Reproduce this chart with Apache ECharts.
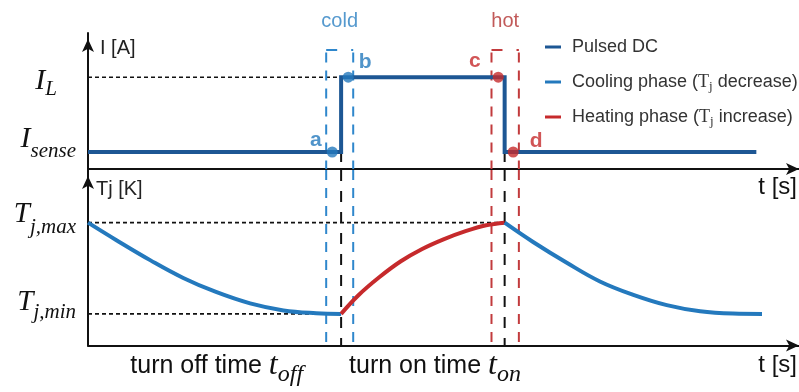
<!DOCTYPE html>
<html>
<head>
<meta charset="utf-8">
<script src="https://cdn.jsdelivr.net/npm/echarts@6/dist/echarts.min.js"></script>
<style>
  html, body { margin: 0; padding: 0; background: #ffffff; }
  #chart { width: 799px; height: 392px; }
</style>
</head>
<body>
<div id="chart"></div>
<script>
// ---- time base (arbitrary units) ----
const tAxisMax = 100;
const tSwitchOn = 35.6;    // load current switched on
const tSwitchOff = 58.6;   // load current switched off
const tCurrentEnd = 94.0;

// ---- current levels ----
const iSense = 1.0;
const iLoad = 5.4;
const iAxisMax = 8;

// ---- junction temperature levels ----
const tjMin = 1.8;
const tjMax = 7.0;
const tjAxisMax = 10;

// ---- pulsed DC current waveform ----
const currentT = [0, tSwitchOn, tSwitchOn, tSwitchOff, tSwitchOff, tCurrentEnd];
const currentI = [iSense, iSense, iLoad, iLoad, iSense, iSense];

// ---- junction temperature: cooling, heating, cooling ----
const cool1T  = [0, 4, 8.8, 13.4, 18, 22.8, 27.5, 32.1, 35.6];
const cool1Tj = [7.0, 6.0, 4.85, 3.85, 3.05, 2.4, 2.0, 1.84, 1.8];
const heatT   = [35.6, 38, 41, 44, 47, 50, 53, 56, 58.6];
const heatTj  = [1.8, 2.85, 3.9, 4.8, 5.5, 6.05, 6.5, 6.85, 7.0];
const cool2T  = [58.6, 62.6, 67.4, 72, 76.6, 81.4, 86.1, 90.7, 94.8];
const cool2Tj = [7.0, 5.9, 4.7, 3.65, 2.9, 2.3, 1.95, 1.82, 1.8];

// ---- measurement windows around the switching edges ----
const coldWindow = [33.5, 37.3];
const hotWindow = [56.75, 60.6];
const windowTop = 7.0;
const windowNames = ['cold', 'hot'];

// ---- sampling points ----
const pointNames = ['a', 'b', 'c', 'd'];
const pointT = [34.35, 36.6, 57.7, 59.8];
const pointI = [iSense, iLoad, iLoad, iSense];

// ---- tick labels ----
const currentTicks = [0, iSense, iLoad];
const currentTickMain = ['0', 'I', 'I'];
const currentTickSub = ['', 'sense', 'L'];
const tjTicks = [0, tjMin, tjMax];
const tjTickMain = ['0', 'T', 'T'];
const tjTickSub = ['', 'j,min', 'j,max'];
const phaseLabelAt = [18.1, 48.8];
const phaseText = ['turn off time ', 'turn on time '];
const phaseMain = ['t', 't'];
const phaseSub = ['off', 'on'];

// ---- legend ----
const legendNames = ['Pulsed DC', 'Cooling phase (Tj decrease)', 'Heating phase (Tj increase)'];

// ---------------------------------------------------------------
const SANS = '"Liberation Sans", Arial, sans-serif';
const SERIF = '"Liberation Serif", "Times New Roman", serif';
const C_DC = '#1d5794';
const C_COOL = '#2479bd';
const C_HEAT = '#c62a2c';
const C_COOL_DASH = '#2f87cc';
const C_HEAT_DASH = '#c23b3d';
const C_INK = '#111111';

const zip = (xs, ys) => xs.map((x, i) => [x, ys[i]]);

// a text fragment whose centre sits `o` px below the centre of a rich line of height H
function frag(base, o, H) {
  const h = o <= 0 ? H + 2 * o : H - 2 * o;
  return Object.assign({}, base, {
    height: h,
    lineHeight: h,
    verticalAlign: o <= 0 ? 'top' : 'bottom'
  });
}

// rich styles for a "symbol + subscript" label
function scriptRich(key, bigSize, subSize, oBig, oSub, padRight) {
  const H = 2 * Math.max(Math.abs(oBig), Math.abs(oSub)) + 40;
  const serif = { fontFamily: SERIF, fontStyle: 'italic', color: C_INK };
  const r = {};
  r[key + 'B'] = frag(Object.assign({}, serif, { fontSize: bigSize }), oBig, H);
  r[key + 'S'] = frag(Object.assign({}, serif, { fontSize: subSize }), oSub, H);
  r[key + 'P'] = { lineHeight: H, height: H, width: padRight, fontSize: 1 };
  return r;
}

// vertical placement of each tick label (big glyph, subscript) and right padding
const curShift = [null, [-13, -1, 1], [4, 12, 20]];
const tjShift = [null, [-12, -1, 1], [-8, 5, 1]];

const curRich = { z: { fontFamily: SANS, fontSize: 18, color: '#222' } };
curShift.forEach((s, i) => { if (s) Object.assign(curRich, scriptRich('c' + i, 30, 21, s[0], s[1], s[2])); });
const tjRich = { z: { fontFamily: SANS, fontSize: 18, color: '#222' } };
tjShift.forEach((s, i) => { if (s) Object.assign(tjRich, scriptRich('t' + i, 29, 21, s[0], s[1], s[2])); });

function tickFormatter(ticks, main, sub, prefix) {
  return v => {
    const k = ticks.indexOf(v);
    if (k < 0) return '';
    if (!sub[k]) return '{z|' + main[k] + '}';
    return '{' + prefix + k + 'B|' + main[k] + '}{' + prefix + k + 'S|' + sub[k] + '}{' + prefix + k + 'P| }';
  };
}

// rich styles for the phase captions under the time axis
const PH = 40;
const phaseRich = {
  tx: frag({ fontFamily: SANS, fontSize: 25, color: C_INK }, 0, PH),
  tm: frag({ fontFamily: SERIF, fontStyle: 'italic', fontSize: 32, color: C_INK }, -1, PH),
  ts: frag({ fontFamily: SERIF, fontStyle: 'italic', fontSize: 24, color: C_INK }, 8, PH)
};

function axisLineStyle() {
  return { show: true, onZero: false, lineStyle: { color: C_INK, width: 2 }, symbol: ['none', 'arrow'], symbolSize: [9, 13] };
}

function seg(grid, data, color, width, dash, z) {
  return {
    type: 'line', xAxisIndex: grid, yAxisIndex: grid, data: data,
    symbol: 'none', showSymbol: false, silent: true, z: z || 1,
    lineStyle: { color: color, width: width, type: dash || 'solid' },
    animation: false
  };
}

const series = [];

// reference levels
series.push(seg(0, [[0, iLoad], [tSwitchOn, iLoad]], C_INK, 1.6, [4, 3]));
series.push(seg(1, [[0, tjMax], [tSwitchOff, tjMax]], C_INK, 1.6, [4, 3]));
series.push(seg(1, [[0, tjMin], [tSwitchOn, tjMin]], C_INK, 1.6, [4, 3]));

// switching instants
[tSwitchOn, tSwitchOff].forEach(t => {
  series.push(seg(0, [[t, iSense], [t, 0]], C_INK, 2, [10, 10]));
  series.push(seg(1, [[t, tjAxisMax], [t, 0]], C_INK, 2, [11, 10]));
});

// measurement windows
[[coldWindow, C_COOL_DASH], [hotWindow, C_HEAT_DASH]].forEach(([w, c]) => {
  series.push(seg(0, [[w[0], windowTop], [w[1], windowTop]], c, 2, [11, 14]));
  w.forEach(t => {
    series.push(seg(0, [[t, windowTop - 0.15], [t, 0]], c, 2, [10, 8]));
    series.push(seg(1, [[t, tjAxisMax], [t, 0]], c, 2, [10, 8]));
  });
});

// current waveform
series.push({
  name: legendNames[0], type: 'line', xAxisIndex: 0, yAxisIndex: 0,
  data: zip(currentT, currentI), symbol: 'none', z: 3, color: C_DC,
  lineStyle: { color: C_DC, width: 4, join: 'miter' }, animation: false
});

// junction temperature
[[cool1T, cool1Tj, legendNames[1], C_COOL], [heatT, heatTj, legendNames[2], C_HEAT], [cool2T, cool2Tj, legendNames[1], C_COOL]]
  .forEach(([xs, ys, name, c]) => {
    series.push({
      name: name, type: 'line', xAxisIndex: 1, yAxisIndex: 1,
      data: zip(xs, ys), symbol: 'none', smooth: 0.4, z: 3, color: c,
      lineStyle: { color: c, width: 4 }, animation: false
    });
  });

// sampling points a-d
const pointLabel = {
  a: { position: 'left', distance: 5, offset: [0, -12], color: C_COOL },
  b: { position: 'right', distance: 5, offset: [0, -15], color: C_COOL },
  c: { position: 'left', distance: 12, offset: [0, -16], color: C_HEAT },
  d: { position: 'right', distance: 11, offset: [0, -11], color: C_HEAT }
};
series.push({
  type: 'scatter', xAxisIndex: 0, yAxisIndex: 0, symbolSize: 11, z: 5, silent: true, animation: false,
  data: pointNames.map((n, i) => {
    const L = pointLabel[n];
    return {
      name: n, value: [pointT[i], pointI[i]],
      itemStyle: { color: L.color },
      label: { show: true, formatter: '{b}', position: L.position, distance: L.distance, offset: L.offset,
               color: L.color, fontFamily: SANS, fontWeight: 'bold', fontSize: 21 }
    };
  })
});

// window captions
series.push({
  type: 'scatter', xAxisIndex: 0, yAxisIndex: 0, symbolSize: 0.1, z: 5, silent: true, animation: false,
  itemStyle: { color: 'transparent' },
  data: [coldWindow, hotWindow].map((w, i) => ({
    name: windowNames[i], value: [(w[0] + w[1]) / 2, windowTop],
    label: { show: true, formatter: '{b}', position: 'top', distance: 18,
             color: i === 0 ? '#2a7fc2' : '#b2312f', fontFamily: SANS, fontSize: 20 }
  }))
});

const option = {
  animation: false,
  backgroundColor: '#ffffff',
  grid: [
    { left: 88, right: 0, top: 33, height: 136, outerBoundsMode: 'none', containLabel: false },
    { left: 88, right: 0, top: 170, height: 175.5, outerBoundsMode: 'none', containLabel: false }
  ],
  legend: {
    data: legendNames, orient: 'vertical', left: 545, top: 36, itemGap: 13, padding: 0,
    icon: 'rect', itemWidth: 16, itemHeight: 3, selectedMode: false,
    formatter: name => name.replace('Tj', '{T|T}{j|j}'),
    textStyle: {
      fontFamily: SANS, fontSize: 18, lineHeight: 22, color: '#333', padding: [0, 0, 0, 6],
      rich: {
        T: { fontFamily: SERIF, fontSize: 18, lineHeight: 22, color: '#333' },
        j: { fontFamily: SERIF, fontSize: 13, lineHeight: 10, verticalAlign: 'bottom', color: '#333' }
      }
    }
  },
  xAxis: [
    {
      gridIndex: 0, type: 'value', min: 0, max: tAxisMax,
      axisLine: axisLineStyle(), axisTick: { show: false }, axisLabel: { show: false }, splitLine: { show: false },
      name: 't [s]', nameLocation: 'end', nameGap: -2, nameMoveOverlap: false,
      nameTextStyle: { fontFamily: SANS, fontSize: 24, color: C_INK, align: 'right', verticalAlign: 'top', padding: [6, 0, 0, 0] }
    },
    {
      gridIndex: 1, type: 'value', min: 0, max: tAxisMax,
      axisLine: axisLineStyle(), axisTick: { show: false }, splitLine: { show: false },
      axisLabel: {
        show: true, customValues: phaseLabelAt, margin: 1, hideOverlap: false,
        formatter: v => {
          const k = phaseLabelAt.indexOf(v);
          return k < 0 ? '' : '{tx|' + phaseText[k] + '}{tm|' + phaseMain[k] + '}{ts|' + phaseSub[k] + '}';
        },
        rich: phaseRich
      },
      name: 't [s]', nameLocation: 'end', nameGap: -2, nameMoveOverlap: false,
      nameTextStyle: { fontFamily: SANS, fontSize: 24, color: C_INK, align: 'right', verticalAlign: 'top', padding: [8, 0, 0, 0] }
    }
  ],
  yAxis: [
    {
      gridIndex: 0, type: 'value', min: 0, max: iAxisMax,
      axisLine: Object.assign(axisLineStyle(), { symbolOffset: [0, -6] }),
      axisTick: { show: false }, splitLine: { show: false },
      axisLabel: { show: true, customValues: currentTicks, margin: 11, hideOverlap: false,
                   formatter: tickFormatter(currentTicks, currentTickMain, currentTickSub, 'c'), rich: curRich },
      name: 'I [A]', nameLocation: 'end', nameGap: -5, nameMoveOverlap: false,
      nameTextStyle: { fontFamily: SANS, fontSize: 20, color: '#222', align: 'left', verticalAlign: 'top', padding: [0, 0, 0, 12] }
    },
    {
      gridIndex: 1, type: 'value', min: 0, max: tjAxisMax,
      axisLine: Object.assign(axisLineStyle(), { symbolOffset: [0, -6] }),
      axisTick: { show: false }, splitLine: { show: false },
      axisLabel: { show: true, customValues: tjTicks, margin: 11, hideOverlap: false,
                   formatter: tickFormatter(tjTicks, tjTickMain, tjTickSub, 't'), rich: tjRich },
      name: 'Tj [K]', nameLocation: 'end', nameGap: -9, nameMoveOverlap: false,
      nameTextStyle: { fontFamily: SANS, fontSize: 20, color: '#222', align: 'left', verticalAlign: 'top', padding: [0, 0, 0, 8] }
    }
  ],
  series: series
};

const chart = echarts.init(document.getElementById('chart'), null, { renderer: 'canvas' });
chart.setOption(option);
</script>
</body>
</html>
